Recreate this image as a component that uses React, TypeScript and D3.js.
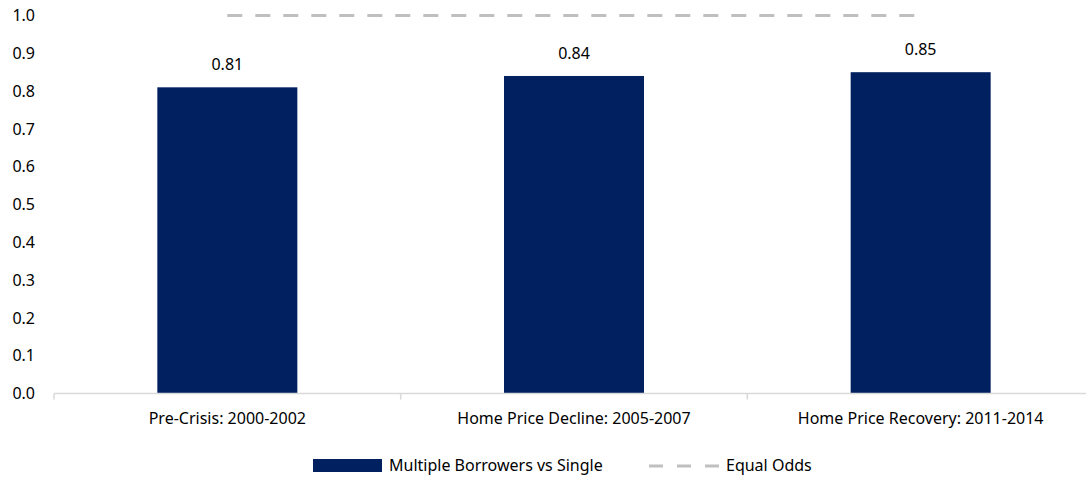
import React from "react";
import * as d3 from "d3";

const categories = [
  "Pre-Crisis: 2000-2002",
  "Home Price Decline: 2005-2007",
  "Home Price Recovery: 2011-2014",
];
const multipleVsSingle = [0.81, 0.84, 0.85];
const equalOdds = [1.0, 1.0, 1.0];
const yTicks = [0, 0.1, 0.2, 0.3, 0.4, 0.5, 0.6, 0.7, 0.8, 0.9, 1.0];
const seriesNames = ["Multiple Borrowers vs Single", "Equal Odds"];

const W = 1086;
const H = 481;
const FONT = "'Noto Sans', sans-serif";
const FS = 16;
const NAVY = "#002060";
const DASH_GRAY = "#bfbfbf";

export default function App() {
  const x = d3
    .scaleBand<string>()
    .domain(categories)
    .range([54, 1094])
    .paddingInner(0)
    .paddingOuter(0);
  const y = d3.scaleLinear().domain([0, 1]).range([393.5, 15.5]);
  const barW = 140;
  const cx = (c: string) => (x(c) as number) + x.bandwidth() / 2;

  const line = d3
    .line<number>()
    .x((_, i) => cx(categories[i]))
    .y((d) => y(d));

  return (
    <svg
      width={W}
      height={H}
      style={{ position: "absolute", left: 0, top: 0, background: "#fff" }}
      fontFamily={FONT}
    >
      {/* y-axis tick labels */}
      {yTicks.map((t) => (
        <text
          key={t}
          x={35}
          y={y(t)}
          dy="0.35em"
          textAnchor="end"
          fontSize={FS}
          fill="#000"
        >
          {d3.format(".1f")(t)}
        </text>
      ))}

      {/* bars */}
      {categories.map((c, i) => (
        <rect
          key={c}
          x={cx(c) - barW / 2}
          y={y(multipleVsSingle[i])}
          width={barW}
          height={y(0) - y(multipleVsSingle[i])}
          fill={NAVY}
        />
      ))}

      {/* value labels */}
      {categories.map((c, i) => (
        <text
          key={c}
          x={cx(c)}
          y={y(multipleVsSingle[i]) - 17}
          textAnchor="middle"
          fontSize={FS}
          fill="#000"
        >
          {d3.format(".2f")(multipleVsSingle[i])}
        </text>
      ))}

      {/* category axis */}
      <line x1={54} x2={W} y1={y(0)} y2={y(0)} stroke="#d9d9d9" strokeWidth={1.5} />
      {[0, 1, 2, 3].map((k) => {
        const xv = 54 + k * x.step();
        return (
          <line key={k} x1={xv} x2={xv} y1={y(0)} y2={y(0) + 6} stroke="#d9d9d9" strokeWidth={1.5} />
        );
      })}
      {categories.map((c) => (
        <text key={c} x={cx(c)} y={418} dy="0.35em" textAnchor="middle" fontSize={FS} fill="#000">
          {c}
        </text>
      ))}

      {/* equal odds reference */}
      <path
        d={line(equalOdds) || ""}
        fill="none"
        stroke={DASH_GRAY}
        strokeWidth={3}
        strokeDasharray="15 13"
      />

      {/* legend */}
      <rect x={313} y={459} width={69} height={13} fill={NAVY} />
      <text x={389} y={465.5} dy="0.35em" fontSize={FS} fill="#000">
        {seriesNames[0]}
      </text>
      <line
        x1={649}
        x2={720}
        y1={466}
        y2={466}
        stroke={DASH_GRAY}
        strokeWidth={3}
        strokeDasharray="14 14"
      />
      <text x={726} y={465.5} dy="0.35em" fontSize={FS} fill="#000">
        {seriesNames[1]}
      </text>
    </svg>
  );
}
